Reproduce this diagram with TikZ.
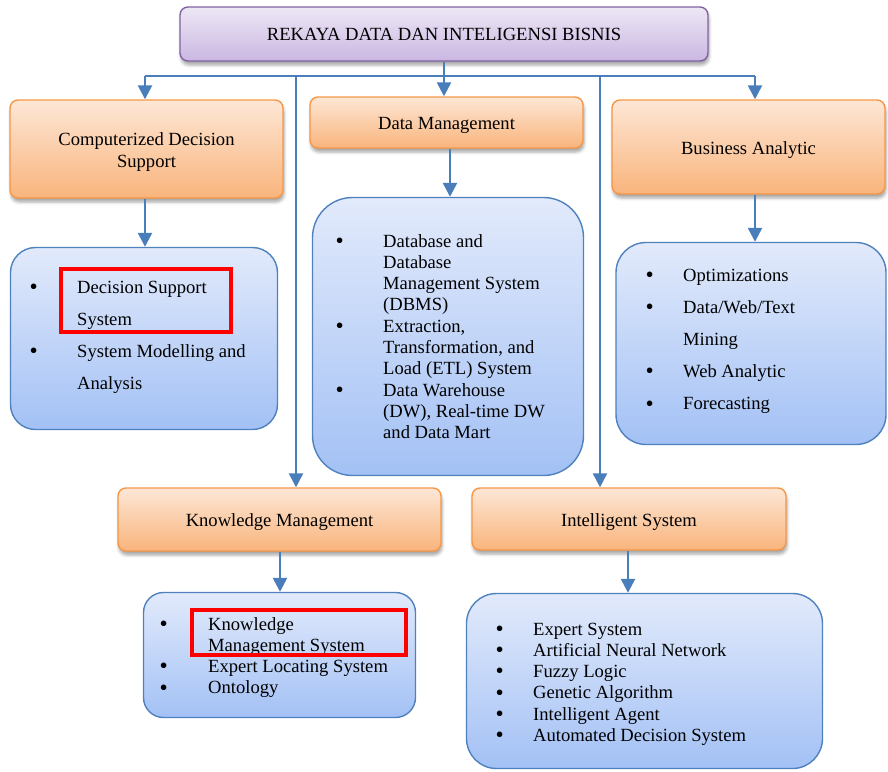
\documentclass[tikz,border=0pt]{standalone}
\usepackage{fontspec}
\setmainfont{Liberation Serif}
\usetikzlibrary{arrows.meta,shadows.blur}

\definecolor{orangeline}{HTML}{F79646}
\definecolor{orangetop}{HTML}{FDE7D6}
\definecolor{orangebot}{HTML}{F9B47C}
\definecolor{purpleline}{HTML}{8064A2}
\definecolor{purpletop}{HTML}{EDE7F5}
\definecolor{purplebot}{HTML}{CAB7E2}
\definecolor{blueline}{HTML}{4F81BD}
\definecolor{bluetop}{HTML}{E2EAFB}
\definecolor{bluebot}{HTML}{A3C1F5}
\definecolor{linkblue}{HTML}{4A7EBB}

\newcommand\listfont{\fontsize{18.6}{21.3}\selectfont}
% heading lines sit a little below the box centre
\newcommand\low[1]{\raisebox{-3pt}[\height][\depth]{#1}}
% list bullet
\newcommand\blt{\raisebox{-1.2pt}{\scalebox{1.25}{\textbullet}}}

\begin{document}
\begin{tikzpicture}[x=1pt,y=-1pt,
  boxbase/.style={rounded corners=8pt, line width=1.4pt, align=center,
    inner sep=0pt, font=\fontsize{18.6}{22}\selectfont},
  softshadow/.style={blur shadow={shadow xshift=1pt, shadow yshift=-4pt,
    shadow blur radius=3pt, shadow opacity=35}},
  titlebox/.style={boxbase, draw=purpleline, top color=purpletop,
    bottom color=purplebot, softshadow},
  headbox/.style={boxbase, draw=orangeline, top color=orangetop,
    bottom color=orangebot, softshadow},
  listbox/.style={draw=blueline, line width=1.4pt, top color=bluetop,
    bottom color=bluebot, inner sep=0pt},
  listtext/.style={inner sep=0pt, anchor=base west, font=\listfont},
  highlight/.style={draw=red, line width=4pt, inner sep=0pt},
  arr/.style={draw=linkblue, line width=2.5pt,
    -{Triangle[width=14pt,length=14pt]}},
  bus/.style={draw=linkblue, line width=2pt}]

\useasboundingbox (0,0) rectangle (888,771);

% ---- top level
\node[titlebox, minimum width=528pt, minimum height=54pt] (title) at (444,34)
  {REKAYA DATA DAN INTELIGENSI BISNIS};

% ---- second-level headings
\node[headbox, minimum width=273pt, minimum height=98pt] (cds) at (146.5,149)
  {\low{Computerized Decision}\\\low{Support}};
\node[headbox, minimum width=273pt, minimum height=51pt] (dm) at (446.5,122.5)
  {\low{Data Management}};
\node[headbox, minimum width=273pt, minimum height=94pt] (ba) at (748.5,147)
  {\low{Business Analytic}};
\node[headbox, minimum width=323pt, minimum height=63pt] (km) at (279.5,519.5)
  {\low{Knowledge Management}};
\node[headbox, minimum width=314pt, minimum height=62pt] (is) at (629,519)
  {\low{Intelligent System}};

% ---- content boxes
\node[listbox, rounded corners=25pt, minimum width=267pt, minimum height=182pt]
  (b1) at (144,338.5) {};
\node[listbox, rounded corners=40pt, minimum width=271pt, minimum height=278pt]
  (b2) at (448,336.5) {};
\node[listbox, rounded corners=30pt, minimum width=270pt, minimum height=202pt]
  (b3) at (751,343.5) {};
\node[listbox, rounded corners=20pt, minimum width=272pt, minimum height=125pt]
  (b4) at (279.5,655) {};
\node[listbox, rounded corners=30pt, minimum width=356pt, minimum height=175pt]
  (b5) at (644.5,681) {};

% ---- list contents
\node[listtext] (l1) at (29.5,293) {\renewcommand\arraystretch{1.512}%
  \begin{tabular}[t]{@{}p{47.5pt}@{}l@{}}
  \blt & Decision Support\\
       & System\\
  \blt & System Modelling and\\
       & Analysis
  \end{tabular}};

\node[listtext] (l2) at (335.5,247) {\renewcommand\arraystretch{1}%
  \begin{tabular}[t]{@{}p{47.5pt}@{}l@{}}
  \blt & Database and\\
       & Database\\
       & Management System\\
       & (DBMS)\\
  \blt & Extraction,\\
       & Transformation, and\\
       & Load (ETL) System\\
  \blt & Data Warehouse\\
       & (DW), Real-time DW\\
       & and Data Mart
  \end{tabular}};

\node[listtext] (l3) at (645.5,281) {\renewcommand\arraystretch{1.512}%
  \begin{tabular}[t]{@{}p{37.5pt}@{}l@{}}
  \blt & Optimizations\\
  \blt & Data/Web/Text\\
       & Mining\\
  \blt & Web Analytic\\
  \blt & Forecasting
  \end{tabular}};

\node[listtext] (l4) at (159.5,630) {\renewcommand\arraystretch{1}%
  \begin{tabular}[t]{@{}p{48.5pt}@{}l@{}}
  \blt & Knowledge\\
       & Management System\\
  \blt & Expert Locating System\\
  \blt & Ontology
  \end{tabular}};

\node[listtext] (l5) at (495.5,635) {\renewcommand\arraystretch{1}%
  \begin{tabular}[t]{@{}p{37.5pt}@{}l@{}}
  \blt & Expert System\\
  \blt & Artificial Neural Network\\
  \blt & Fuzzy Logic\\
  \blt & Genetic Algorithm\\
  \blt & Intelligent Agent\\
  \blt & Automated Decision System
  \end{tabular}};

% ---- red highlights
\node[highlight, minimum width=170pt, minimum height=63pt] (h1) at (146,300.5) {};
\node[highlight, minimum width=214pt, minimum height=45pt] (h2) at (299,632.5) {};

% ---- connectors
\coordinate (busL) at (145,76);
\coordinate (busK) at (296,76);
\coordinate (busI) at (600,76);
\coordinate (busR) at (755,76);
\draw[bus] (busL) -- (busR);
\draw[arr] (title.south) -- (title.south |- dm.north);
\draw[arr] (busL) -- (busL |- cds.north);
\draw[arr] (busR) -- (busR |- ba.north);
\draw[arr] (busK) -- (busK |- km.north);
\draw[arr] (busI) -- (busI |- is.north);

\coordinate (cdsS) at (145,0);
\coordinate (dmS) at (450,0);
\coordinate (baS) at (755,0);
\coordinate (kmS) at (280,0);
\coordinate (isS) at (628,0);
\draw[arr] (cdsS |- cds.south) -- (cdsS |- b1.north);
\draw[arr] (dmS |- dm.south) -- (dmS |- b2.north);
\draw[arr] (baS |- ba.south) -- (baS |- b3.north);
\draw[arr] (kmS |- km.south) -- (kmS |- b4.north);
\draw[arr] (isS |- is.south) -- (isS |- b5.north);

\end{tikzpicture}
\end{document}
